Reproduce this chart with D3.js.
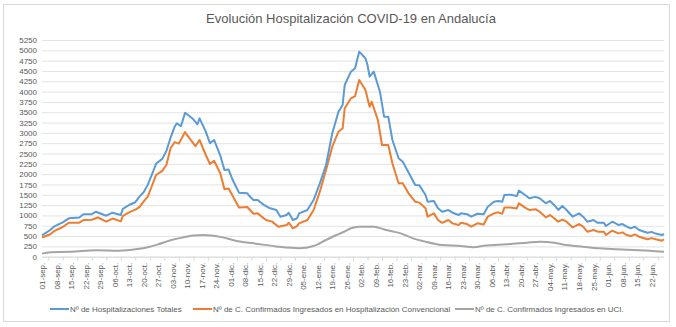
<!DOCTYPE html>
<html>
<head>
<meta charset="utf-8">
<script src="https://cdn.jsdelivr.net/npm/d3@7"></script>
<style>
  body { margin: 0; background: #fff; }
  svg { font-family: "Liberation Sans", Arial, sans-serif; }
</style>
</head>
<body>
<script>
// Canvas size
var svgWidth = 676;
var svgHeight = 327;

// Plot area
var margin = { top: 40, right: 12, bottom: 70, left: 42 };
var chartWidth = 622;
var chartHeight = 216.7;

// Series data: day offsets from 01-sep-2020 and values
var totalDays = [0, 4, 6, 10, 13, 18, 20, 24, 26, 31, 34, 38, 39, 42, 45, 47, 49, 51, 53, 55, 58, 60, 62, 64, 65, 67, 69, 70, 73, 75, 76, 79, 81, 83, 86, 88, 90, 92, 95, 99, 100, 102, 104, 107, 110, 113, 115, 118, 119, 121, 123, 124, 128, 131, 134, 137, 140, 143, 145, 146, 149, 151, 153, 156, 157, 158, 160, 163, 165, 167, 169, 172, 174, 177, 180, 182, 185, 186, 189, 191, 193, 196, 198, 201, 202, 205, 207, 210, 213, 215, 218, 220, 222, 223, 226, 229, 230, 233, 235, 238, 240, 243, 245, 247, 249, 251, 253, 256, 259, 261, 263, 266, 268, 271, 272, 275, 278, 280, 282, 284, 286, 288, 292, 294, 296, 299, 300];
var totalVals = [515, 647, 735, 830, 930, 950, 1027, 1030, 1090, 993, 1066, 1010, 1160, 1253, 1320, 1454, 1560, 1740, 1990, 2250, 2370, 2560, 2880, 3150, 3232, 3160, 3485, 3450, 3329, 3208, 3353, 3029, 2748, 2828, 2450, 2101, 2110, 1858, 1551, 1540, 1471, 1374, 1374, 1253, 1172, 1132, 969, 1010, 1066, 889, 930, 1050, 1132, 1374, 1778, 2222, 2990, 3513, 3676, 4160, 4483, 4565, 4967, 4807, 4645, 4362, 4483, 3998, 3392, 3392, 2828, 2384, 2300, 2021, 1737, 1730, 1495, 1333, 1350, 1172, 1090, 1130, 1066, 1010, 1050, 1030, 969, 1040, 1030, 1212, 1333, 1350, 1333, 1495, 1500, 1470, 1600, 1495, 1415, 1450, 1415, 1293, 1350, 1253, 1132, 1230, 1132, 969, 1050, 969, 848, 889, 820, 820, 744, 848, 770, 790, 727, 687, 727, 647, 582, 600, 560, 526, 550];

var wardDays = [0, 4, 6, 10, 13, 18, 20, 24, 27, 31, 34, 38, 39, 42, 45, 47, 49, 51, 53, 55, 58, 60, 62, 64, 66, 69, 71, 74, 76, 79, 81, 83, 86, 88, 90, 92, 95, 99, 102, 104, 108, 111, 114, 118, 119, 121, 123, 124, 128, 131, 134, 137, 140, 143, 145, 146, 149, 151, 153, 156, 158, 159, 162, 164, 167, 169, 172, 174, 177, 180, 182, 185, 186, 189, 191, 193, 196, 198, 201, 202, 205, 207, 210, 213, 215, 218, 220, 222, 223, 226, 229, 230, 233, 235, 238, 240, 243, 245, 247, 249, 251, 253, 256, 259, 261, 263, 266, 268, 271, 272, 275, 278, 280, 282, 284, 286, 288, 292, 294, 296, 299, 300];
var wardVals = [465, 545, 625, 720, 824, 824, 889, 895, 950, 848, 925, 855, 990, 1075, 1140, 1200, 1333, 1454, 1713, 1980, 2080, 2222, 2627, 2775, 2740, 3020, 2880, 2680, 2828, 2464, 2246, 2326, 2021, 1633, 1650, 1471, 1190, 1205, 1040, 1050, 889, 850, 727, 767, 824, 688, 740, 808, 889, 1132, 1575, 2101, 2666, 3029, 3110, 3596, 3838, 3890, 4282, 4039, 3635, 3756, 3312, 2706, 2706, 2263, 1778, 1778, 1520, 1333, 1310, 1172, 969, 1050, 889, 820, 889, 808, 770, 820, 790, 727, 808, 780, 969, 1050, 1075, 1040, 1190, 1190, 1170, 1293, 1190, 1132, 1150, 1090, 955, 1010, 930, 848, 900, 848, 710, 790, 727, 606, 647, 606, 606, 526, 630, 565, 590, 526, 500, 540, 485, 421, 450, 421, 388, 420];

var icuDays = [0, 4, 14, 26, 37, 46, 51, 56, 62, 69, 73, 78, 86, 94, 104, 113, 124, 131, 137, 142, 146, 149, 153, 160, 166, 173, 179, 185, 193, 202, 208, 214, 224, 234, 240, 247, 253, 261, 269, 277, 285, 293, 300];
var icuVals = [75, 110, 120, 155, 145, 185, 230, 300, 400, 475, 515, 525, 480, 380, 310, 250, 205, 259, 404, 526, 610, 688, 727, 727, 647, 566, 445, 363, 283, 259, 228, 270, 300, 340, 363, 340, 283, 242, 203, 179, 162, 145, 121];

// Axis labels
var yTicks = d3.range(0, 5251, 250);
var tickDays = d3.range(0, 295, 7);
var monthsEs = ["ene", "feb", "mar", "abr", "may", "jun", "jul", "ago", "sep", "oct", "nov", "dic"];
var seriesNames = [
  "Nº de Hospitalizaciones Totales",
  "Nº de C. Confirmados Ingresados en Hospitalización Convencional",
  "Nº de C. Confirmados Ingresados en UCI."
];
var seriesColors = ["#5b9bd5", "#ed7d31", "#a5a5a5"];
var titleText = "Evolución Hospitalización COVID-19 en Andalucía";

var startDate = new Date(2020, 8, 1);
function toDate(d) { return d3.timeDay.offset(startDate, d); }

var esLocale = d3.timeFormatLocale({
  dateTime: "%x, %X", date: "%d/%m/%Y", time: "%H:%M:%S",
  periods: ["AM", "PM"],
  days: ["domingo", "lunes", "martes", "miércoles", "jueves", "viernes", "sábado"],
  shortDays: ["dom", "lun", "mar", "mié", "jue", "vie", "sáb"],
  months: monthsEs, shortMonths: monthsEs
});
var fmt = esLocale.format("%d-%b.");

var svg = d3.select("body")
  .append("svg")
  .attr("width", svgWidth)
  .attr("height", svgHeight);

// Chart border
svg.append("rect")
  .attr("x", 3.5).attr("y", 4.5)
  .attr("width", 666).attr("height", 317)
  .attr("fill", "#fff")
  .attr("stroke", "#d9d9d9");

// Title
svg.append("text")
  .attr("x", 351).attr("y", 23)
  .attr("text-anchor", "middle")
  .attr("font-size", "13px")
  .attr("fill", "#595959")
  .text(titleText);

var chartGroup = svg.append("g")
  .attr("transform", `translate(${margin.left}, ${margin.top})`);

var xScale = d3.scaleTime()
  .domain([toDate(0), toDate(300)])
  .range([0, chartWidth]);

var yScale = d3.scaleLinear()
  .domain([0, 5250])
  .range([chartHeight, 0]);

// Gridlines
chartGroup.append("g")
  .call(d3.axisLeft(yScale).tickValues(yTicks).tickSize(-chartWidth).tickFormat(""))
  .call(g => g.select(".domain").remove())
  .call(g => g.selectAll("line").attr("stroke", "#d9d9d9").attr("stroke-width", 0.75));

// Y axis labels
chartGroup.append("g")
  .call(d3.axisLeft(yScale).tickValues(yTicks).tickSize(0).tickPadding(5).tickFormat(d3.format("d")))
  .call(g => g.select(".domain").remove())
  .call(g => g.selectAll("text").attr("fill", "#595959").attr("font-size", "8px"));

// X axis line and ticks
var xAxisG = chartGroup.append("g")
  .attr("transform", `translate(0, ${chartHeight})`)
  .call(d3.axisBottom(xScale)
    .tickValues(tickDays.map(d => toDate(d + 3.5)))
    .tickSize(4).tickFormat(""));
xAxisG.select(".domain").attr("stroke", "#d9d9d9").attr("d", `M0,0.5H${chartWidth}`);
xAxisG.selectAll("line").attr("stroke", "#d9d9d9");

// X axis labels
chartGroup.append("g")
  .attr("transform", `translate(0, ${chartHeight})`)
  .selectAll("text")
  .data(tickDays)
  .enter()
  .append("text")
  .attr("transform", d => `translate(${xScale(toDate(d)) + 3}, 6) rotate(-90)`)
  .attr("text-anchor", "end")
  .attr("font-size", "8px")
  .attr("fill", "#595959")
  .text(d => fmt(toDate(d)));

// Lines
var drawLine = d3.line()
  .x(p => xScale(toDate(p[0])))
  .y(p => yScale(p[1]));

var series = [
  { days: icuDays, vals: icuVals, color: seriesColors[2], curve: d3.curveMonotoneX },
  { days: wardDays, vals: wardVals, color: seriesColors[1], curve: d3.curveLinear },
  { days: totalDays, vals: totalVals, color: seriesColors[0], curve: d3.curveLinear }
];

series.forEach(function(s) {
  chartGroup.append("path")
    .datum(d3.zip(s.days, s.vals))
    .attr("fill", "none")
    .attr("stroke", s.color)
    .attr("stroke-width", 2)
    .attr("stroke-linejoin", "round")
    .attr("d", drawLine.curve(s.curve));
});

// Legend
var legendX = [50, 193, 455];
var legend = svg.append("g").attr("transform", "translate(0, 309)");
seriesNames.forEach(function(name, i) {
  legend.append("line")
    .attr("x1", legendX[i]).attr("x2", legendX[i] + 19)
    .attr("y1", 0).attr("y2", 0)
    .attr("stroke", seriesColors[i])
    .attr("stroke-width", 2);
  legend.append("text")
    .attr("x", legendX[i] + 20).attr("y", 3)
    .attr("font-size", "8px")
    .attr("fill", "#595959")
    .text(name);
});
</script>
</body>
</html>
